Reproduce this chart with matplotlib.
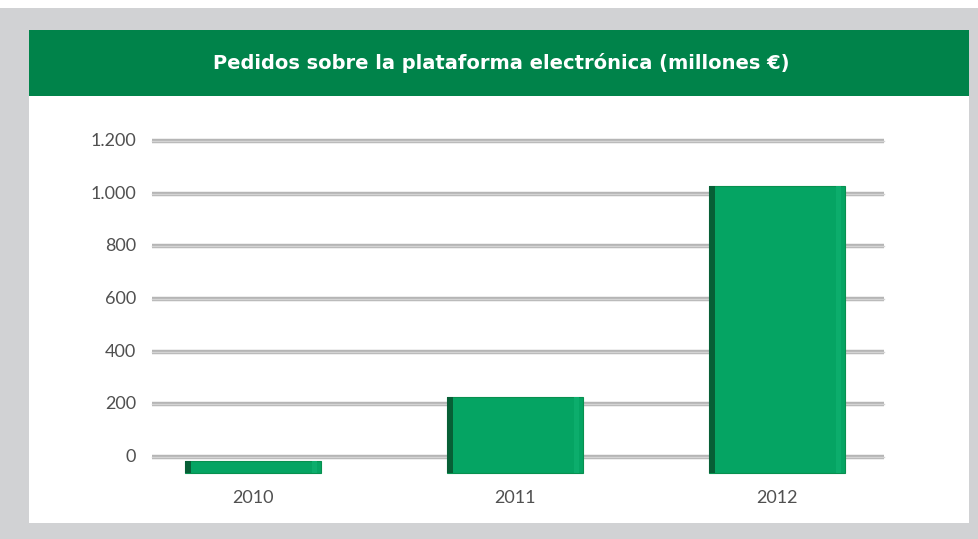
import matplotlib.pyplot as plt
import matplotlib.transforms as mtransforms
from matplotlib.patches import Rectangle

years = ['2010', '2011', '2012']
pedidos = [45, 290, 1090]
y_ticks = [0, 200, 400, 600, 800, 1000, 1200]
y_labels = ['0', '200', '400', '600', '800', '1.000', '1.200']

title = 'Pedidos sobre la plataforma electrónica (millones €)'

W, H = 979, 539
fig = plt.figure(figsize=(W / 100, H / 100), dpi=100)
fig.patch.set_facecolor('#d1d2d4')

def px_rect(x0, y0, x1, y1, color):
    # rectangle given in pixel coords (origin top left)
    fig.patches.append(Rectangle((x0 / W, 1 - y1 / H), (x1 - x0) / W, (y1 - y0) / H,
                                 transform=fig.transFigure, facecolor=color,
                                 edgecolor='none', zorder=-5))

px_rect(0, 0, W, 8, 'white')
px_rect(29, 30, 969, 523, 'white')
px_rect(29, 30, 969, 96, '#00834a')
fig.text(501 / W, 1 - 63 / H, title, color='white', fontsize=14,
         fontweight='bold', family='DejaVu Sans', ha='center', va='center')

# axes placed so that 0 -> 457px and 1200 -> 141px
ylim = (-90, 1240)
ppu = (457 - 141) / 1200.0
bot_px = 457 - ylim[0] * ppu
top_px = 141 - (ylim[1] - 1200) * ppu
ax = fig.add_axes([122 / W, 1 - bot_px / H, 786 / W, (bot_px - top_px) / H])
ax.set_zorder(5)
ax.set_xlim(-0.5, 2.5)
ax.set_ylim(*ylim)
ax.patch.set_alpha(0)
for s in ax.spines.values():
    s.set_visible(False)

# gridlines on the back wall
for t in y_ticks:
    ax.axhline(t, xmin=30 / 786, xmax=762 / 786, color='#b5b5b5', lw=3.2,
               solid_capstyle='butt', zorder=1)
    ax.axhline(t, xmin=30 / 786, xmax=762 / 786, color='#d4d4d4', lw=1.0,
               zorder=1.1)

# bars pushed down a bit for the 3d look
shift = ax.transData + mtransforms.ScaledTranslation(0, -16 / 100, fig.dpi_scale_trans)
x = range(len(years))
ax.bar(x, pedidos, width=0.52, color='#05a463', edgecolor='#08904f', lw=0.8,
       transform=shift, zorder=3)
ax.bar([i - 0.248 for i in x], pedidos, width=0.025, color='#075f36',
       edgecolor='none', transform=shift, zorder=4)
ax.bar([i + 0.235 for i in x], pedidos, width=0.02, color='#0cad6c',
       edgecolor='none', transform=shift, zorder=4)

lab_font = dict(fontsize=13, color='#505050', family='Lato')
ax.set_xticks(list(x))
ax.set_xticklabels(years, **lab_font)
ax.tick_params(axis='x', length=0, pad=7)
ax.set_yticks([])
for t, lab in zip(y_ticks, y_labels):
    ax.text(14 / 786, t, lab, transform=ax.get_yaxis_transform(), ha='right',
            va='center', **lab_font)

fig.savefig('out.png', dpi=100, facecolor=fig.get_facecolor())
